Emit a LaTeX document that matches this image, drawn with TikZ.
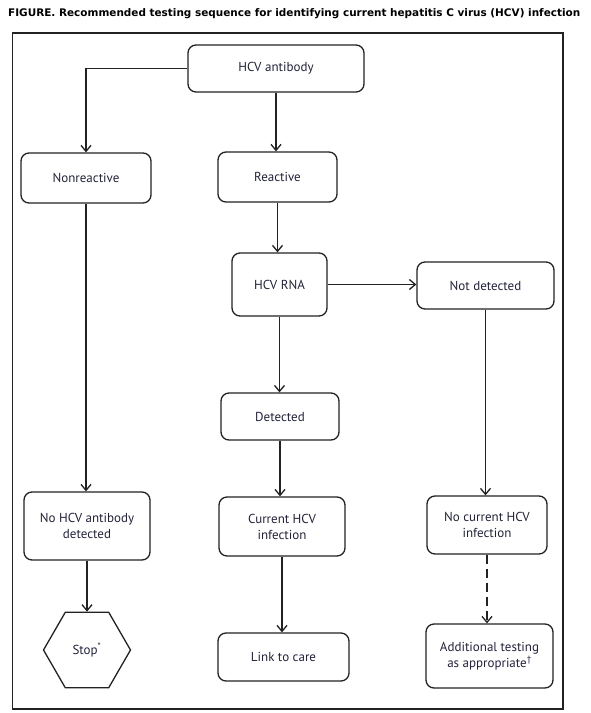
\documentclass[tikz,border=0pt]{standalone}
\usepackage{fontspec}
\setmainfont{PT Sans}
\newfontfamily\titlefont{DejaVu Sans}
\usetikzlibrary{arrows.meta,shapes.geometric}
\definecolor{linecol}{HTML}{222222}
\definecolor{textcol}{HTML}{22223A}
\begin{document}
\begin{tikzpicture}[x=1pt,y=-1pt,
  box/.style={draw=linecol,line width=1.3pt,rounded corners=8pt,inner sep=0pt,
    align=center,text=textcol,font=\fontsize{13}{16}\selectfont},
  hexa/.style={draw=linecol,line width=1.3pt,regular polygon,regular polygon sides=6,
    inner sep=0pt,minimum size=87pt,text=textcol,font=\fontsize{13}{16}\selectfont},
  arr/.style={draw=linecol,line width=1.3pt,-{Straight Barb[length=6pt,width=10pt,line width=1.3pt]}},
  dasharr/.style={arr,dash pattern=on 9pt off 5pt}]
\useasboundingbox (0,0) rectangle (590,713);
\node[anchor=base west,inner sep=0pt] (title) at (8,16.5)
  {\resizebox{572pt}{!}{\titlefont\bfseries FIGURE. Recommended testing sequence for identifying current hepatitis C virus (HCV) infection}};
\draw[linecol,line width=1.3pt] (12.7,33) rectangle (563,709);

\node[box,minimum width=176pt,minimum height=47pt] (ab) at (276,68.5) {HCV antibody};
\node[box,minimum width=130pt,minimum height=50pt] (nr) at (86,178) {Nonreactive};
\node[box,minimum width=119pt,minimum height=50pt] (re) at (277.5,177) {Reactive};
\node[box,minimum width=95pt,minimum height=63pt] (rna) at (279.5,284.5) {HCV RNA};
\node[box,minimum width=137pt,minimum height=47pt] (nd) at (485.5,285.5) {Not detected};
\node[box,minimum width=118pt,minimum height=47pt] (det) at (280,416.5) {Detected};
\node[box,minimum width=126pt,minimum height=68pt] (nohcv) at (87,526) {No HCV antibody\\detected};
\node[box,minimum width=126pt,minimum height=59pt] (cur) at (282,526.5) {Current HCV\\infection};
\node[box,minimum width=120pt,minimum height=58pt] (nocur) at (487,525) {No current HCV\\infection};
\node[hexa] (stop) at (87,650) {Stop\textsuperscript{*}};
\node[box,minimum width=131pt,minimum height=48pt] (link) at (283.5,657) {Link to care};
\node[box,minimum width=127pt,minimum height=64pt] (add) at (489.5,656) {Additional testing\\as appropriate\textsuperscript{\dag}};

\draw[arr] (ab.west) -| (nr.north);
\draw[arr] (ab.south) -- (ab.south |- re.north);
\draw[arr] (re.south) -- (re.south |- rna.north);
\draw[arr] (rna.east) -- (rna.east -| nd.west);
\draw[arr] (rna.south) -- (rna.south |- det.north);
\draw[arr] (det.south) -- (det.south |- cur.north);
\draw[arr] (cur.south) -- (cur.south |- link.north);
\draw[arr] (nr.south) -- (nr.south |- nohcv.north);
\draw[arr] (nohcv.south) -- (nohcv.south |- stop.north);
\draw[arr] (nd.south) -- (nd.south |- nocur.north);
\draw[dasharr] (nocur.south) -- (nocur.south |- add.north);
\end{tikzpicture}
\end{document}
